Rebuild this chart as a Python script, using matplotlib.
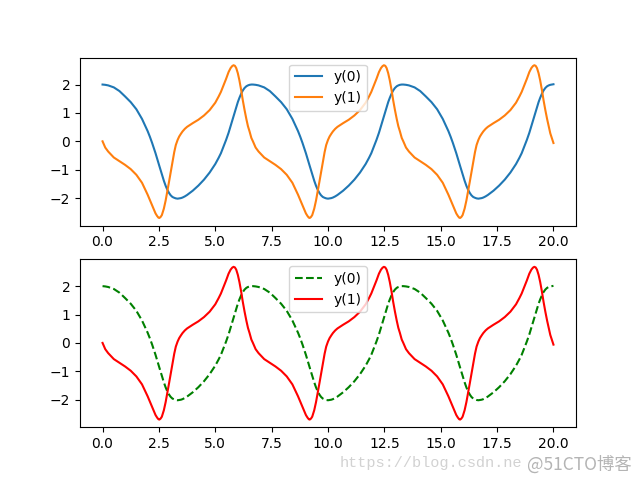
import matplotlib
matplotlib.use("Agg")
import matplotlib.pyplot as plt

# time points (three cycles of the oscillation)
t = [
    0.00, 0.12, 0.25, 0.50, 0.75, 1.00, 1.25, 1.50, 1.75, 2.00,
    2.10, 2.20, 2.28, 2.35, 2.42, 2.48, 2.52, 2.57, 2.63, 2.72,
    2.80, 2.87, 2.95, 3.02, 3.10, 3.18, 3.25, 3.33, 3.40, 3.48,
    3.55, 3.65, 3.75, 4.00, 4.25, 4.50, 4.75, 5.00, 5.15, 5.25,
    5.37, 5.48, 5.59, 5.68, 5.75, 5.81, 5.87, 5.93, 6.00, 6.07,
    6.15, 6.22, 6.30, 6.38, 6.45, 6.52, 6.60,
    6.67, 6.79, 6.92, 7.17, 7.42, 7.67, 7.92, 8.17, 8.42, 8.67,
    8.77, 8.87, 8.95, 9.02, 9.09, 9.15, 9.19, 9.24, 9.30, 9.39,
    9.47, 9.54, 9.62, 9.69, 9.77, 9.85, 9.92, 10.00, 10.07, 10.15,
    10.22, 10.32, 10.42, 10.67, 10.92, 11.17, 11.42, 11.67, 11.82, 11.92,
    12.04, 12.15, 12.26, 12.35, 12.42, 12.48, 12.54, 12.60, 12.67, 12.74,
    12.82, 12.89, 12.97, 13.05, 13.12, 13.19, 13.27,
    13.34, 13.46, 13.59, 13.84, 14.09, 14.34, 14.59, 14.84, 15.09, 15.34,
    15.44, 15.54, 15.62, 15.69, 15.76, 15.82, 15.86, 15.91, 15.97, 16.06,
    16.14, 16.21, 16.29, 16.36, 16.44, 16.52, 16.59, 16.67, 16.74, 16.82,
    16.89, 16.99, 17.09, 17.34, 17.59, 17.84, 18.09, 18.34, 18.49, 18.59,
    18.71, 18.82, 18.93, 19.02, 19.09, 19.15, 19.21, 19.27, 19.34, 19.41,
    19.49, 19.56, 19.64, 19.72, 19.79, 19.86, 19.94, 20.00,
]

# y(0): position
y0 = [
    2.00, 1.99, 1.97, 1.90, 1.77, 1.58, 1.38, 1.13, 0.79, 0.36,
    0.16, -0.06, -0.25, -0.42, -0.60, -0.76, -0.87, -1.00, -1.16, -1.39,
    -1.57, -1.70, -1.82, -1.90, -1.96, -1.99, -2.01, -2.02, -2.01, -2.00,
    -1.98, -1.94, -1.89, -1.74, -1.56, -1.35, -1.10, -0.80, -0.58, -0.42,
    -0.18, 0.05, 0.30, 0.54, 0.73, 0.89, 1.05, 1.21, 1.38, 1.53,
    1.68, 1.79, 1.88, 1.94, 1.97, 1.99, 2.00,
    2.00, 1.99, 1.97, 1.90, 1.77, 1.58, 1.38, 1.13, 0.79, 0.36,
    0.16, -0.06, -0.25, -0.42, -0.60, -0.76, -0.87, -1.00, -1.16, -1.39,
    -1.57, -1.70, -1.82, -1.90, -1.96, -1.99, -2.01, -2.02, -2.01, -2.00,
    -1.98, -1.94, -1.89, -1.74, -1.56, -1.35, -1.10, -0.80, -0.58, -0.42,
    -0.18, 0.05, 0.30, 0.54, 0.73, 0.89, 1.05, 1.21, 1.38, 1.53,
    1.68, 1.79, 1.88, 1.94, 1.97, 1.99, 2.00,
    2.00, 1.99, 1.97, 1.90, 1.77, 1.58, 1.38, 1.13, 0.79, 0.36,
    0.16, -0.06, -0.25, -0.42, -0.60, -0.76, -0.87, -1.00, -1.16, -1.39,
    -1.57, -1.70, -1.82, -1.90, -1.96, -1.99, -2.01, -2.02, -2.01, -2.00,
    -1.98, -1.94, -1.89, -1.74, -1.56, -1.35, -1.10, -0.80, -0.58, -0.42,
    -0.18, 0.05, 0.30, 0.54, 0.73, 0.89, 1.05, 1.21, 1.38, 1.53,
    1.68, 1.79, 1.88, 1.94, 1.97, 1.99, 2.00, 2.01,
]

# y(1): velocity
y1 = [
    0.00, -0.22, -0.36, -0.57, -0.70, -0.83, -0.98, -1.18, -1.46, -1.88,
    -2.07, -2.27, -2.42, -2.54, -2.63, -2.69, -2.70, -2.67, -2.60, -2.37,
    -2.08, -1.78, -1.42, -1.10, -0.72, -0.38, -0.13, 0.05, 0.17, 0.27,
    0.35, 0.44, 0.51, 0.64, 0.76, 0.91, 1.10, 1.36, 1.58, 1.74,
    1.98, 2.20, 2.44, 2.58, 2.65, 2.68, 2.66, 2.58, 2.40, 2.15,
    1.80, 1.45, 1.10, 0.78, 0.53, 0.35, 0.12,
    0.00, -0.22, -0.36, -0.57, -0.70, -0.83, -0.98, -1.18, -1.46, -1.88,
    -2.07, -2.27, -2.42, -2.54, -2.63, -2.69, -2.70, -2.67, -2.60, -2.37,
    -2.08, -1.78, -1.42, -1.10, -0.72, -0.38, -0.13, 0.05, 0.17, 0.27,
    0.35, 0.44, 0.51, 0.64, 0.76, 0.91, 1.10, 1.36, 1.58, 1.74,
    1.98, 2.20, 2.44, 2.58, 2.65, 2.68, 2.66, 2.58, 2.40, 2.15,
    1.80, 1.45, 1.10, 0.78, 0.53, 0.35, 0.12,
    0.00, -0.22, -0.36, -0.57, -0.70, -0.83, -0.98, -1.18, -1.46, -1.88,
    -2.07, -2.27, -2.42, -2.54, -2.63, -2.69, -2.70, -2.67, -2.60, -2.37,
    -2.08, -1.78, -1.42, -1.10, -0.72, -0.38, -0.13, 0.05, 0.17, 0.27,
    0.35, 0.44, 0.51, 0.64, 0.76, 0.91, 1.10, 1.36, 1.58, 1.74,
    1.98, 2.20, 2.44, 2.58, 2.65, 2.68, 2.66, 2.58, 2.40, 2.15,
    1.80, 1.45, 1.10, 0.78, 0.53, 0.28, 0.08, -0.06,
]

fig = plt.figure(figsize=(6.4, 4.8), dpi=100)

ax1 = fig.add_subplot(211)
ax1.plot(t, y0, label="y(0)")
ax1.plot(t, y1, label="y(1)")
ax1.legend(loc="upper center")

ax2 = fig.add_subplot(212)
ax2.plot(t, y0, "g--", label="y(0)")
ax2.plot(t, y1, "r-", label="y(1)")
ax2.legend(loc="upper center")

# watermarks in the bottom right corner (the last letter of the csdn one is hidden)
fig.text(0.531, 0.027, "https://blog.csdn.ne", color="#d2d2d2",
         fontsize=11, family="Liberation Mono")
fig.text(0.824, 0.022, "@51CTO博客", color="#b4b4b4", fontsize=12.5,
         family=["Noto Sans CJK SC", "DejaVu Sans"])

plt.savefig("out.png", dpi=100)
plt.close()
